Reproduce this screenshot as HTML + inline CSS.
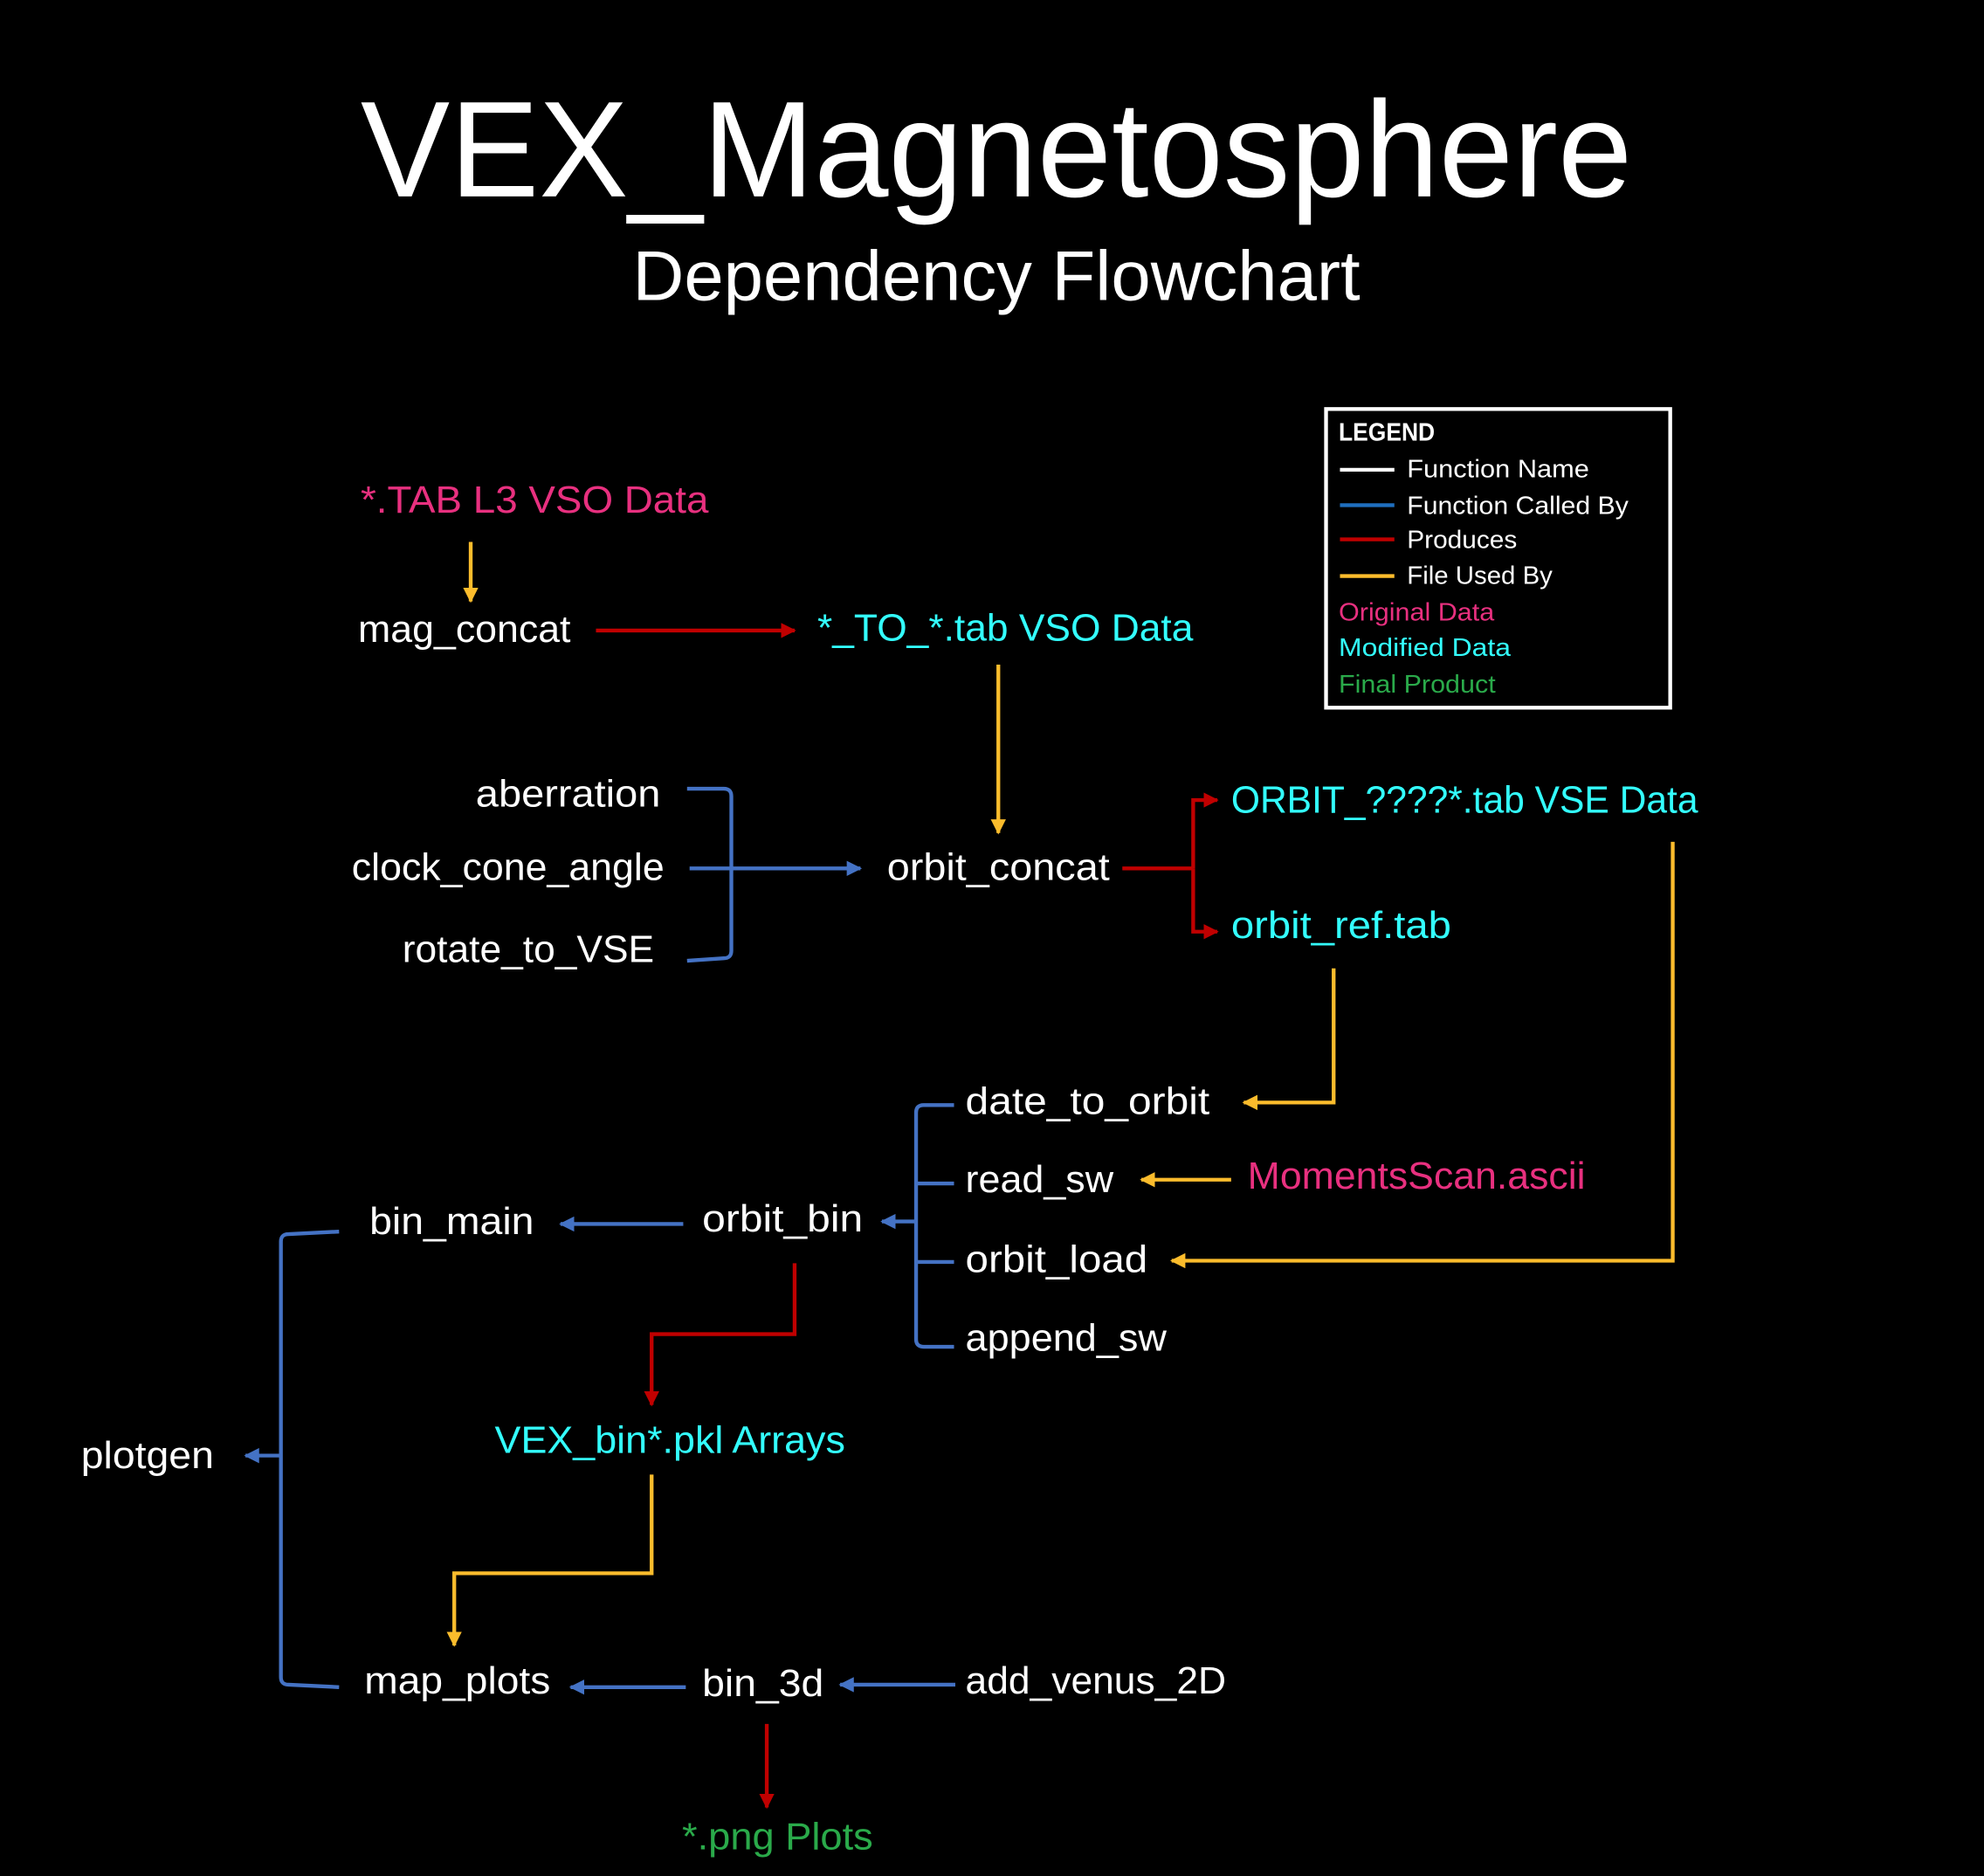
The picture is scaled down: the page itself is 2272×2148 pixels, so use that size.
<!DOCTYPE html>
<html><head><meta charset="utf-8"><style>
html,body{margin:0;padding:0;background:#000;}
svg{display:block;}
text{font-family:"Liberation Sans",sans-serif;}
</style></head><body>
<svg width="2272" height="2148" viewBox="0 0 1568 1482" xmlns="http://www.w3.org/2000/svg">
<defs>
<marker id="ab" viewBox="0 0 10 10" refX="9" refY="5" markerWidth="4" markerHeight="4" orient="auto-start-reverse"><path d="M0,0 L10,5 L0,10 z" fill="#4472c4"/></marker>
<marker id="ar" viewBox="0 0 10 10" refX="9" refY="5" markerWidth="4" markerHeight="4" orient="auto"><path d="M0,0 L10,5 L0,10 z" fill="#c00000"/></marker>
<marker id="ay" viewBox="0 0 10 10" refX="9" refY="5" markerWidth="4" markerHeight="4" orient="auto"><path d="M0,0 L10,5 L0,10 z" fill="#fbbc2c"/></marker>
</defs>
<rect width="1568" height="1482" fill="#000"/>
<text x="285" y="155" font-size="108" fill="#fff" textLength="1005" lengthAdjust="spacingAndGlyphs">VEX_Magnetosphere</text>
<text x="500" y="237" font-size="56" fill="#fff" textLength="575" lengthAdjust="spacingAndGlyphs">Dependency Flowchart</text>

<rect x="1048" y="323" width="272" height="236" fill="none" stroke="#fff" stroke-width="3"/>
<g font-size="20">
<text x="1058" y="348" fill="#fff" font-weight="bold" textLength="76" lengthAdjust="spacingAndGlyphs">LEGEND</text>
<text x="1112" y="377" fill="#fff" textLength="144" lengthAdjust="spacingAndGlyphs">Function Name</text>
<text x="1112" y="406" fill="#fff" textLength="175" lengthAdjust="spacingAndGlyphs">Function Called By</text>
<text x="1112" y="433" fill="#fff" textLength="87" lengthAdjust="spacingAndGlyphs">Produces</text>
<text x="1112" y="461" fill="#fff" textLength="115" lengthAdjust="spacingAndGlyphs">File Used By</text>
<text x="1058" y="490" fill="#e8307f" textLength="123" lengthAdjust="spacingAndGlyphs">Original Data</text>
<text x="1058" y="518" fill="#33ffff" textLength="136" lengthAdjust="spacingAndGlyphs">Modified Data</text>
<text x="1058" y="547" fill="#2aaa4a" textLength="124" lengthAdjust="spacingAndGlyphs">Final Product</text>
</g>
<g stroke-width="3">
<line x1="1059" y1="371" x2="1102" y2="371" stroke="#fff"/>
<line x1="1059" y1="399" x2="1102" y2="399" stroke="#1f6fbf"/>
<line x1="1059" y1="426" x2="1102" y2="426" stroke="#c00000"/>
<line x1="1059" y1="455" x2="1102" y2="455" stroke="#fbbc2c"/>
</g>

<g font-size="30">
<text x="285" y="405" fill="#e8307f" textLength="275" lengthAdjust="spacingAndGlyphs">*.TAB L3 VSO Data</text>
<text x="283" y="507" fill="#fff" textLength="168" lengthAdjust="spacingAndGlyphs">mag_concat</text>
<text x="646" y="506" fill="#33ffff" textLength="297" lengthAdjust="spacingAndGlyphs">*_TO_*.tab VSO Data</text>
<text x="376" y="637" fill="#fff" textLength="146" lengthAdjust="spacingAndGlyphs">aberration</text>
<text x="278" y="695" fill="#fff" textLength="247" lengthAdjust="spacingAndGlyphs">clock_cone_angle</text>
<text x="318" y="760" fill="#fff" textLength="199" lengthAdjust="spacingAndGlyphs">rotate_to_VSE</text>
<text x="701" y="695" fill="#fff" textLength="176" lengthAdjust="spacingAndGlyphs">orbit_concat</text>
<text x="973" y="642" fill="#33ffff" textLength="369" lengthAdjust="spacingAndGlyphs">ORBIT_????*.tab VSE Data</text>
<text x="973" y="741" fill="#33ffff" textLength="174" lengthAdjust="spacingAndGlyphs">orbit_ref.tab</text>
<text x="763" y="880" fill="#fff" textLength="193" lengthAdjust="spacingAndGlyphs">date_to_orbit</text>
<text x="763" y="942" fill="#fff" textLength="117" lengthAdjust="spacingAndGlyphs">read_sw</text>
<text x="986" y="939" fill="#e8307f" textLength="267" lengthAdjust="spacingAndGlyphs">MomentsScan.ascii</text>
<text x="763" y="1005" fill="#fff" textLength="144" lengthAdjust="spacingAndGlyphs">orbit_load</text>
<text x="763" y="1067" fill="#fff" textLength="159" lengthAdjust="spacingAndGlyphs">append_sw</text>
<text x="555" y="973" fill="#fff" textLength="127" lengthAdjust="spacingAndGlyphs">orbit_bin</text>
<text x="292" y="975" fill="#fff" textLength="130" lengthAdjust="spacingAndGlyphs">bin_main</text>
<text x="391" y="1148" fill="#33ffff" textLength="277" lengthAdjust="spacingAndGlyphs">VEX_bin*.pkl Arrays</text>
<text x="64" y="1160" fill="#fff" textLength="105" lengthAdjust="spacingAndGlyphs">plotgen</text>
<text x="288" y="1338" fill="#fff" textLength="147" lengthAdjust="spacingAndGlyphs">map_plots</text>
<text x="555" y="1340" fill="#fff" textLength="96" lengthAdjust="spacingAndGlyphs">bin_3d</text>
<text x="763" y="1338" fill="#fff" textLength="206" lengthAdjust="spacingAndGlyphs">add_venus_2D</text>
<text x="539" y="1461" fill="#2aaa4a" textLength="151" lengthAdjust="spacingAndGlyphs">*.png Plots</text>
</g>

<g fill="none" stroke-width="3">
<!-- yellow -->
<g stroke="#fbbc2c">
<line x1="372" y1="428" x2="372" y2="475" marker-end="url(#ay)"/>
<line x1="789" y1="525" x2="789" y2="658" marker-end="url(#ay)"/>
<polyline points="1322,665 1322,996 926,996" marker-end="url(#ay)"/>
<polyline points="1054,765 1054,871 983,871" marker-end="url(#ay)"/>
<line x1="973" y1="932" x2="902" y2="932" marker-end="url(#ay)"/>
<polyline points="515,1165 515,1243 359,1243 359,1300" marker-end="url(#ay)"/>
</g>
<!-- red -->
<g stroke="#c00000">
<line x1="471" y1="498" x2="628" y2="498" marker-end="url(#ar)"/>
<line x1="887" y1="686" x2="943" y2="686"/>
<polyline points="962,632 943,632 943,736 962,736" stroke="none"/>
<polyline points="943,686 943,632 962,632" marker-end="url(#ar)"/>
<polyline points="943,686 943,736 962,736" marker-end="url(#ar)"/>
<polyline points="628,998 628,1054 515,1054 515,1110" marker-end="url(#ar)"/>
<line x1="606" y1="1362" x2="606" y2="1428" marker-end="url(#ar)"/>
</g>
<!-- blue -->
<g stroke="#4472c4">
<path d="M543,623 L572,623 Q578,623 578,629 L578,751 Q578,757 572,757 L543,759"/>
<line x1="545" y1="686" x2="680" y2="686" marker-end="url(#ab)"/>
<path d="M754,873 L730,873 Q724,873 724,879 L724,1058 Q724,1064 730,1064 L754,1064"/>
<line x1="724" y1="935" x2="754" y2="935"/>
<line x1="724" y1="997" x2="754" y2="997"/>
<line x1="724" y1="965" x2="697" y2="965" marker-end="url(#ab)"/>
<line x1="540" y1="967" x2="443" y2="967" marker-end="url(#ab)"/>
<path d="M268,973 L228,975 Q222,975 222,981 L222,1325 Q222,1331 228,1331 L268,1333"/>
<line x1="222" y1="1150" x2="194" y2="1150" marker-end="url(#ab)"/>
<line x1="542" y1="1333" x2="451" y2="1333" marker-end="url(#ab)"/>
<line x1="755" y1="1331" x2="664" y2="1331" marker-end="url(#ab)"/>
</g>
</g>
</svg>
</body></html>
